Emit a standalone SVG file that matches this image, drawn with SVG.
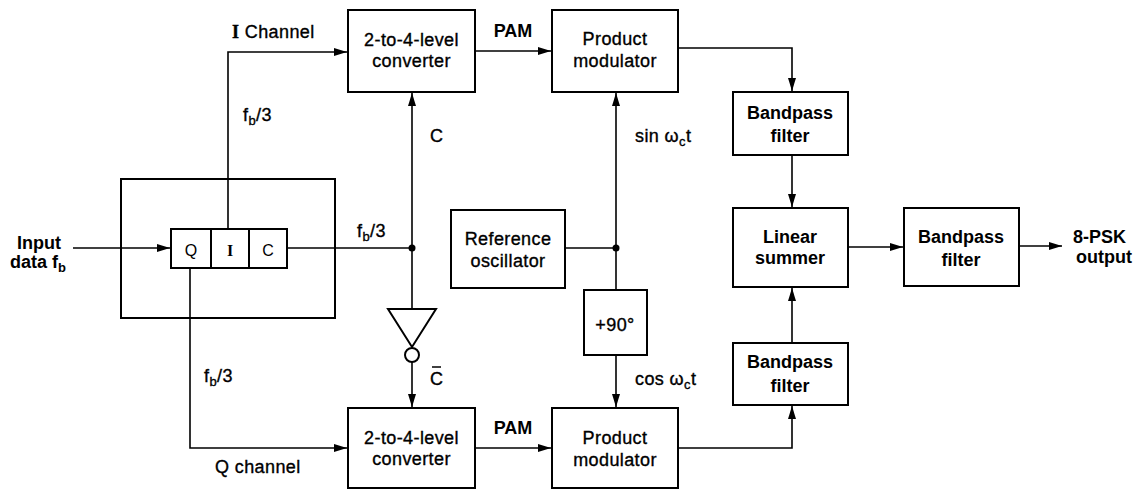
<svg xmlns="http://www.w3.org/2000/svg" width="1138" height="493" viewBox="0 0 1138 493">
<style>
.box{fill:none;stroke:#000;stroke-width:2}
.ln{fill:none;stroke:#000;stroke-width:1.6}
.ar{fill:none;stroke:#000;stroke-width:1.6;marker-end:url(#ah)}
text{font-family:"Liberation Sans",Arial,sans-serif;font-size:18px;fill:#000}
.m{stroke:#000;stroke-width:0.35;letter-spacing:0.4px}
.b{font-weight:bold}
.c{text-anchor:middle}
.sub{font-size:13px}
</style>
<defs>
<marker id="ah" markerUnits="userSpaceOnUse" markerWidth="14" markerHeight="10" refX="13" refY="5" orient="auto">
<path d="M0,1 L13,5 L0,9 Z" fill="#000"/>
</marker>
</defs>
<rect width="1138" height="493" fill="#fff"/>

<g id="connectors">
<polyline class="ar" points="228,229 228,52 347,52"/>
<line class="ar" x1="73" y1="248" x2="170" y2="248"/>
<line class="ln" x1="287" y1="248" x2="412" y2="248"/>
<line class="ar" x1="412" y1="248" x2="412" y2="93"/>
<line class="ln" x1="412" y1="248" x2="412" y2="309"/>
<line class="ar" x1="412" y1="362" x2="412" y2="407"/>
<polyline class="ar" points="190,268 190,448 347,448"/>
<line class="ar" x1="475" y1="51" x2="551" y2="51"/>
<line class="ar" x1="475" y1="448" x2="551" y2="448"/>
<polyline class="ar" points="678,48 792,48 792,91"/>
<line class="ar" x1="792" y1="155" x2="792" y2="207"/>
<polyline class="ar" points="678,448 792,448 792,406"/>
<line class="ar" x1="792" y1="343" x2="792" y2="288"/>
<line class="ar" x1="848" y1="247" x2="903" y2="247"/>
<line class="ar" x1="1019" y1="246" x2="1062" y2="246"/>
<line class="ln" x1="565" y1="248" x2="616" y2="248"/>
<line class="ar" x1="616" y1="248" x2="616" y2="93"/>
<line class="ln" x1="616" y1="248" x2="616" y2="290"/>
<line class="ar" x1="616" y1="355" x2="616" y2="407"/>
<circle cx="412" cy="248" r="3.5" fill="#000"/>
<circle cx="616" cy="248" r="3.5" fill="#000"/>
</g>

<g id="splitter">
<rect class="box" x="121" y="179" width="214" height="139"/>
<rect class="box" x="171" y="229" width="116" height="39"/>
<line class="box" x1="211" y1="229" x2="211" y2="268"/>
<line class="box" x1="249" y1="229" x2="249" y2="268"/>
<text class="c" x="191" y="256" font-size="16" style="font-size:16px">Q</text>
<text class="c b" x="230" y="256" style="font-size:16px;font-family:'Liberation Serif',serif">I</text>
<text class="c" x="268" y="256" style="font-size:16px">C</text>
</g>

<g id="inverter">
<polygon class="box" points="388,309 436,309 412,347"/>
<circle class="box" cx="412" cy="355" r="7"/>
</g>

<g id="conv1">
<rect class="box" x="348" y="10" width="127" height="82"/>
<text class="c m" x="411.5" y="46">2-to-4-level</text>
<text class="c m" x="411.5" y="67">converter</text>
</g>
<g id="conv2">
<rect class="box" x="348" y="408" width="127" height="80"/>
<text class="c m" x="411.5" y="444">2-to-4-level</text>
<text class="c m" x="411.5" y="465">converter</text>
</g>
<g id="pm1">
<rect class="box" x="552" y="10" width="126" height="82"/>
<text class="c m" x="615" y="45">Product</text>
<text class="c m" x="615" y="67">modulator</text>
</g>
<g id="pm2">
<rect class="box" x="552" y="408" width="126" height="80"/>
<text class="c m" x="615" y="444">Product</text>
<text class="c m" x="615" y="466">modulator</text>
</g>
<g id="refosc">
<rect class="box" x="451" y="210" width="114" height="78"/>
<text class="c m" x="508" y="245">Reference</text>
<text class="c m" x="508" y="267">oscillator</text>
</g>
<g id="shift90">
<rect class="box" x="584" y="290" width="63" height="65"/>
<text class="c m" x="615" y="331">+90°</text>
</g>
<g id="bpf1">
<rect class="box" x="733" y="92" width="115" height="63"/>
<text class="c b" x="790" y="119">Bandpass</text>
<text class="c b" x="790" y="142">filter</text>
</g>
<g id="summer">
<rect class="box" x="733" y="208" width="115" height="79"/>
<text class="c b" x="790" y="243">Linear</text>
<text class="c b" x="790" y="264">summer</text>
</g>
<g id="bpf2">
<rect class="box" x="733" y="343" width="115" height="62"/>
<text class="c b" x="790" y="368">Bandpass</text>
<text class="c b" x="790" y="392">filter</text>
</g>
<g id="bpf3">
<rect class="box" x="904" y="208" width="115" height="78"/>
<text class="c b" x="961" y="243">Bandpass</text>
<text class="c b" x="961" y="266">filter</text>
</g>

<g id="labels">
<text class="m" x="232" y="38"><tspan style="font-family:'Liberation Serif',serif;font-weight:bold">I</tspan> Channel</text>
<text class="m" x="243" y="121">f<tspan class="sub" dy="4">b</tspan><tspan dy="-4">/3</tspan></text>
<text class="m" x="357" y="237">f<tspan class="sub" dy="4">b</tspan><tspan dy="-4">/3</tspan></text>
<text class="m" x="204" y="382">f<tspan class="sub" dy="4">b</tspan><tspan dy="-4">/3</tspan></text>
<text class="m" x="215" y="473">Q channel</text>
<text class="b" x="17" y="249">Input</text>
<text class="b" x="10" y="268">data f<tspan class="sub" dy="4">b</tspan></text>
<text class="b c" x="513" y="37">PAM</text>
<text class="b c" x="513" y="434">PAM</text>
<text class="m" x="430" y="142">C</text>
<text class="m" x="430" y="385">C</text>
<line x1="432" y1="367" x2="441" y2="367" stroke="#000" stroke-width="1.5"/>
<text class="m" x="635" y="142">sin ω<tspan class="sub" dy="4">c</tspan><tspan dy="-4">t</tspan></text>
<text class="m" x="635" y="385">cos ω<tspan class="sub" dy="4">c</tspan><tspan dy="-4">t</tspan></text>
<text class="b" x="1073" y="243">8-PSK</text>
<text class="b" x="1076" y="263">output</text>
</g>
</svg>
